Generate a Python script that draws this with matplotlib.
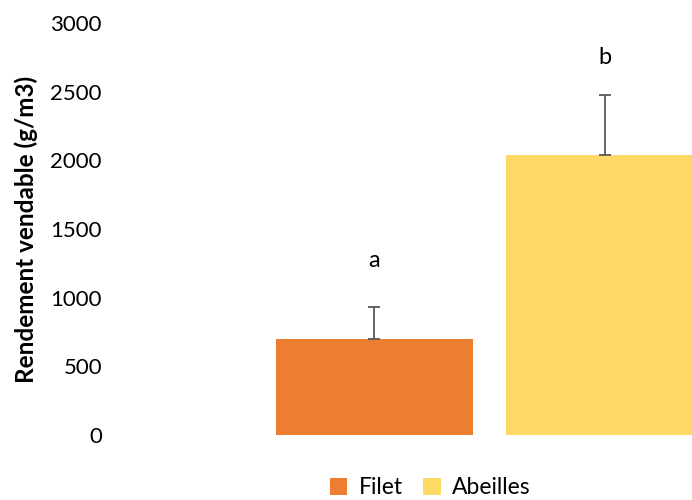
import numpy as np
import matplotlib.pyplot as plt

plt.rcParams['font.family'] = ['Lato', 'DejaVu Sans']

groupes = ['Filet', 'Abeilles']
rendement = [700, 2040]
erreur = [230, 435]
lettres = ['a', 'b']
pos_lettres = [1270, 2750]
couleurs = ['#ED7D31', '#FFD966']
ticks_y = [0, 500, 1000, 1500, 2000, 2500, 3000]

fig = plt.figure(figsize=(6.92, 5.0), dpi=100)
ax = fig.add_axes([120 / 692, 0.13, 572 / 692, 0.824])

x = np.arange(len(groupes))
barres = ax.bar(x, rendement, width=0.855, color=couleurs, label=groupes, zorder=2)
ax.errorbar(x, rendement, yerr=[[0] * len(erreur), erreur], fmt='none',
            ecolor='#595959', elinewidth=1.3, capsize=4.5, capthick=1.3, zorder=3)

for xi, txt, yl in zip(x, lettres, pos_lettres):
    ax.text(xi, yl, txt, ha='center', va='center', fontsize=17, color='black')

ax.set_xlim(-1.104, 1.378)
ax.set_ylim(0, 3000)
ax.set_yticks(ticks_y)
ax.set_xticks([])
ax.tick_params(axis='y', length=0, labelsize=16, pad=13)
for s in ax.spines.values():
    s.set_visible(False)

ax.set_ylabel('Rendement vendable (g/m3)', fontsize=17.5, fontweight='bold')
ax.yaxis.set_label_coords(-0.144, 0.5)

fig.legend(handles=barres, labels=groupes, loc='center', bbox_to_anchor=(0.622, 0.024),
           ncol=2, frameon=False, fontsize=16.5, handlelength=0.75, handleheight=0.75,
           handletextpad=0.5, columnspacing=0.9)

fig.savefig('out.png', dpi=100)
